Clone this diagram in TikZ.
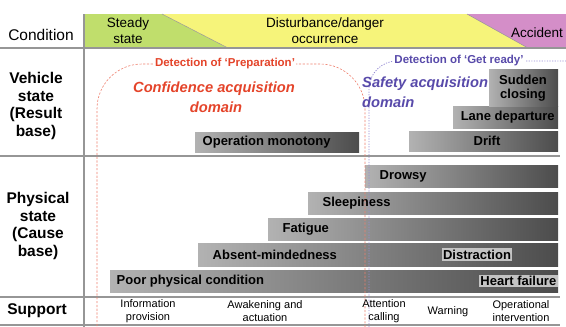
\documentclass[tikz,border=0pt]{standalone}
\usepackage{fontspec}
\setmainfont{Liberation Sans}
\definecolor{hgreen}{RGB}{192,222,108}
\definecolor{hyellow}{RGB}{246,244,122}
\definecolor{hpurple}{RGB}{212,142,200}
\definecolor{rulegray}{RGB}{150,150,150}
\definecolor{barL}{RGB}{178,178,178}
\definecolor{barD}{RGB}{76,76,76}
\definecolor{tred}{RGB}{228,68,42}
\definecolor{tblue}{RGB}{88,74,170}
\definecolor{lred}{RGB}{238,128,110}
\definecolor{lblue}{RGB}{150,140,212}
\definecolor{labfill}{RGB}{214,214,214}
\tikzset{
  rule/.style={draw=rulegray, line width=1.1pt},
  hdrtxt/.style={font=\fontsize{13.5}{16}\selectfont, align=center, inner sep=0pt},
  rowlab/.style={font=\fontsize{15.5}{17.7}\selectfont\bfseries, align=center, inner sep=0pt},
  bar/.style={anchor=north west, inner sep=0pt, left color=barL, right color=barD, draw=none},
  barlab/.style={font=\fontsize{13}{14.5}\selectfont\bfseries, inner sep=1.5pt, align=center},
  hilab/.style={barlab, fill=labfill, fill opacity=0.85, text opacity=1},
  suptxt/.style={font=\fontsize{11}{13.5}\selectfont, align=center, inner sep=0pt},
  reddash/.style={draw=lred, line width=0.6pt, dash pattern=on 2.2pt off 1.6pt},
  bluedash/.style={draw=lblue, line width=0.8pt, dash pattern=on 1.2pt off 1.4pt},
  dettxt/.style={font=\fontsize{11.5}{13}\selectfont\bfseries, fill=white, inner sep=1.5pt},
  domtxt/.style={font=\fontsize{14.7}{18}\selectfont\bfseries\itshape, inner sep=0pt}
}
\begin{document}
\begin{tikzpicture}[x=1pt,y=-1pt]
\useasboundingbox (0,0) rectangle (566,327);
\begin{scope}
\clip (0,0) rectangle (566,327);
% header band
\fill[hgreen] (84,14) -- (162,14) -- (228,48) -- (84,48) -- cycle;
\fill[hyellow] (162,14) -- (467,14) -- (528,48) -- (228,48) -- cycle;
\fill[hpurple] (467,14) -- (566,14) -- (566,48) -- (528,48) -- cycle;
\draw[rulegray, line width=0.5pt] (162,14) -- (228,48);
\draw[rulegray, line width=0.5pt] (467,14) -- (528,48);
% table rules
\draw[rule] (84,14) -- (84,327);
\draw[rule] (0,48) -- (566,48);
\draw[rule] (0,156) -- (560,156);
\draw[rule] (0,297) -- (560,297);
\draw[rule] (0,325) -- (560,325);
% header text
\node[hdrtxt, font=\fontsize{15.5}{17}\selectfont] (cond) at (41,35) {Condition};
\node[hdrtxt] (steady) at (128,31) {Steady\\state};
\node[hdrtxt] (dist) at (325,31) {Disturbance/danger\\occurrence};
\node[hdrtxt, anchor=east] (acc) at (563,33) {Accident};
% row labels
\node[rowlab] (veh) at (36,106) {Vehicle\\state\\(Result\\base)};
\node[rowlab] (phys) at (38,226) {Physical\\state\\(Cause\\base)};
\node[rowlab] (supp) at (37,311) {Support};
% vehicle bars
\node[bar, minimum width=164pt, minimum height=20pt] (opmono) at (195,132) {};
\node[bar, minimum width=149pt, minimum height=20pt] (drift) at (409,131) {};
\node[bar, minimum width=105pt, minimum height=22pt] (lane) at (453,106) {};
\node[bar, minimum width=69pt, minimum height=37pt] (sudden) at (489,69) {};
\node[barlab, anchor=west] (lopmono) at ([xshift=6pt]opmono.west) {Operation monotony};
\node[barlab] (ldrift) at (487,141) {Drift};
\node[barlab, anchor=east] (llane) at ([xshift=-2pt]lane.east) {Lane departure};
\node[barlab] (lsudden) at (523,88) {Sudden\\closing};
% physical bars
\node[bar, minimum width=193pt, minimum height=22pt] (drowsy) at (365,165) {};
\node[bar, minimum width=250pt, minimum height=22pt] (sleep) at (308,192) {};
\node[bar, minimum width=290pt, minimum height=22pt] (fatigue) at (268,218) {};
\node[bar, minimum width=360pt, minimum height=23pt] (absent) at (198,243) {};
\node[bar, minimum width=448pt, minimum height=22pt] (poor) at (110,270) {};
\node[barlab, anchor=west] (ldrowsy) at (378,176) {Drowsy};
\node[barlab, anchor=west] (lsleep) at (321,203) {Sleepiness};
\node[barlab, anchor=west] (lfatigue) at (281,229) {Fatigue};
\node[barlab, anchor=west] (labsent) at (211,254.5) {Absent-mindedness};
\node[barlab, anchor=west] (lpoor) at (115,281) {Poor physical condition};
\node[hilab] (ldistr) at (477,254.5) {Distraction};
\node[hilab, anchor=east] (lheart) at (558,281) {Heart failure};
% domains
\draw[reddash, rounded corners=45pt] (97,345) -- (97,64) -- (365,64) -- (365,345);
\draw[bluedash, rounded corners=28pt] (369,345) -- (369,61) -- (620,61);
\node[dettxt, text=tred] (detprep) at (225,64) {Detection of `Preparation'};
\node[dettxt, text=tblue] (detget) at (459,61) {Detection of `Get ready'};
\node[domtxt, text=tred] (conf1) at (214,89) {Confidence acquisition};
\node[domtxt, text=tred] (conf2) at (216,107) {domain};
\node[domtxt, text=tblue, anchor=west] (safe1) at (362,84) {Safety acquisition};
\node[domtxt, text=tblue, anchor=west] (safe2) at (362,102) {domain};
% support
\node[suptxt] (s1) at (148,311) {Information\\provision};
\node[suptxt] (s2) at (265,311) {Awakening and\\actuation};
\node[suptxt] (s3) at (384,311) {Attention\\calling};
\node[suptxt] (s4) at (448,312) {Warning};
\node[suptxt] (s5) at (521,311) {Operational\\intervention};
\end{scope}
\end{tikzpicture}
\end{document}
